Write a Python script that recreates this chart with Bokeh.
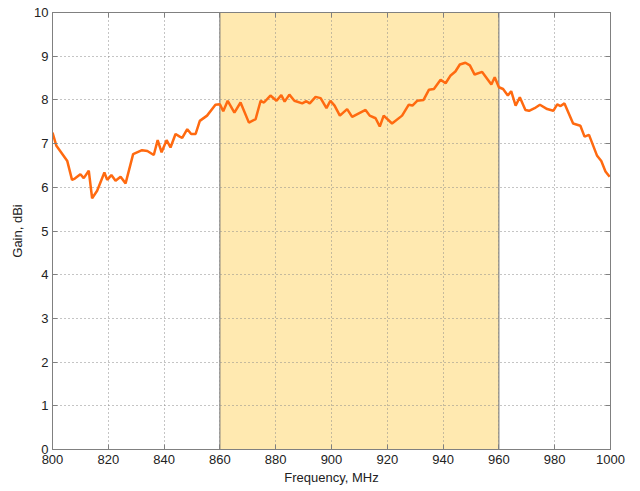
from bokeh.plotting import figure
from bokeh.models import LinearAxis, Range1d, FixedTicker, CustomJSTickFormatter
from bokeh.embed import file_html
from bokeh.resources import INLINE

freq = [800, 801.4, 805.3, 807, 808, 810, 811.2, 813, 814.2, 816, 818.6, 819.6, 821.1, 822.6,
        824.4, 826.2, 828.9, 832.1, 834, 836.3, 837.7, 839.1, 840.9, 842.3, 844.1, 845.6, 846.5,
        848.3, 849.7, 851.3, 852.8, 855.4, 858.4, 860, 861.2, 862.8, 865.2, 867.4, 870.4, 872.8,
        874.6, 875.8, 878.1, 880.3, 882, 883.2, 884.9, 886.7, 889.5, 891, 892.2, 894.3, 896.1,
        898.2, 899.6, 901.1, 903, 905.6, 907.4, 912.2, 913.7, 915.8, 917.3, 918.7, 921.7, 925.3,
        927.7, 929, 930.7, 933, 934.9, 936.7, 939.1, 940.9, 942.7, 944.4, 946, 948, 949.6, 951.3,
        954, 957.3, 958.5, 960, 961.5, 963.2, 964.4, 966, 967.5, 969.5, 970.8, 972.8, 974.7,
        977.3, 979.5, 980.9, 982.1, 983.5, 986.6, 989.2, 990.7, 992.3, 995.2, 996.7, 998.2, 999.7]
gain = [7.25, 6.95, 6.6, 6.17, 6.2, 6.3, 6.21, 6.38, 5.75, 5.92, 6.34, 6.17, 6.28, 6.15,
        6.24, 6.09, 6.76, 6.85, 6.83, 6.74, 7.08, 6.8, 7.08, 6.91, 7.22, 7.16, 7.13,
        7.33, 7.22, 7.22, 7.52, 7.64, 7.89, 7.9, 7.74, 7.98, 7.71, 7.94, 7.48, 7.56,
        7.98, 7.94, 8.1, 7.98, 8.11, 7.96, 8.12, 7.98, 7.92, 7.97, 7.92, 8.07, 8.04,
        7.81, 7.98, 7.87, 7.64, 7.79, 7.61, 7.77, 7.64, 7.58, 7.39, 7.64, 7.46, 7.64,
        7.89, 7.87, 7.98, 8.0, 8.23, 8.25, 8.46, 8.38, 8.56, 8.65, 8.81, 8.85, 8.79, 8.58,
        8.64, 8.35, 8.52, 8.29, 8.25, 8.1, 8.2, 7.87, 8.06, 7.77, 7.75, 7.81, 7.89,
        7.79, 7.75, 7.9, 7.86, 7.92, 7.46, 7.41, 7.16, 7.2, 6.72, 6.6, 6.36, 6.24]

band_lo = [860]
band_hi = [960]
x_ticks = [800, 820, 840, 860, 880, 900, 920, 940, 960, 980, 1000]
y_ticks = [0, 1, 2, 3, 4, 5, 6, 7, 8, 9, 10]

FONT = "Liberation Sans"
AX = "#808080"

p = figure(width=632, height=491, output_backend="svg", toolbar_location=None,
           x_range=Range1d(800, 1000), y_range=Range1d(0, 10),
           min_border_left=52, min_border_right=22, min_border_top=12, min_border_bottom=42)
p.outline_line_color = AX
p.outline_line_width = 1
p.background_fill_color = "white"

p.quad(left=band_lo, right=band_hi, bottom=[0], top=[10], fill_color="#FFE9B0",
       line_color="#707070", line_width=1, level="image")

p.line(freq, gain, line_color="#FF6A10", line_width=2.5)

for ax, ticks in ((p.xaxis[0], x_ticks), (p.yaxis[0], y_ticks)):
    ax.ticker = FixedTicker(ticks=ticks)
    ax.axis_line_color = AX
    ax.major_tick_line_color = AX
    ax.major_tick_in = 5
    ax.major_tick_out = 0
    ax.minor_tick_line_color = None
    ax.major_label_text_font = FONT
    ax.major_label_text_font_size = "13px"
    ax.major_label_text_color = "#222222"
    ax.axis_label_text_font = FONT
    ax.axis_label_text_font_size = "13px"
    ax.axis_label_text_font_style = "normal"
    ax.axis_label_text_color = "#222222"

p.xaxis[0].axis_label = "Frequency, MHz"
p.yaxis[0].axis_label = "Gain, dBi"
p.xaxis[0].major_label_standoff = 5
p.yaxis[0].major_label_standoff = 4
p.xaxis[0].axis_label_standoff = 3
p.yaxis[0].axis_label_standoff = 6

empty = CustomJSTickFormatter(code="return '';")
top = LinearAxis(ticker=FixedTicker(ticks=x_ticks), formatter=empty,
                 axis_line_color=AX, major_tick_line_color=AX, major_tick_in=5,
                 major_tick_out=0, minor_tick_line_color=None,
                 major_label_text_font_size="0px", major_label_standoff=0)
right = LinearAxis(ticker=FixedTicker(ticks=y_ticks), formatter=empty,
                   axis_line_color=AX, major_tick_line_color=AX, major_tick_in=5,
                   major_tick_out=0, minor_tick_line_color=None,
                   major_label_text_font_size="0px", major_label_standoff=0)
p.add_layout(top, "above")
p.add_layout(right, "right")

for g, ticks in ((p.xgrid[0], x_ticks), (p.ygrid[0], y_ticks)):
    g.ticker = FixedTicker(ticks=ticks)
    g.grid_line_color = "#8a8a8a"
    g.grid_line_dash = "1 3"
    g.grid_line_width = 1

open("out.html", "w").write(file_html(p, INLINE))
